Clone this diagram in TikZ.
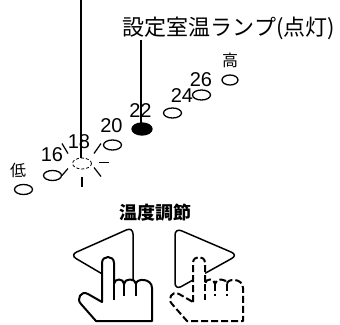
\documentclass[tikz,border=0pt]{standalone}
\usepackage{fontspec}
\newfontfamily\jpfont{Noto Sans CJK JP}
\newfontfamily\numfont{Liberation Sans}
\usetikzlibrary{shapes.geometric}

\tikzset{
  lamp/.style={draw, ellipse, line width=1.3, minimum width=18, minimum height=10, inner sep=0},
  lit/.style={lamp, fill=black, minimum width=20, minimum height=12},
  blink/.style={lamp, densely dashed, line width=0.8, minimum width=19, minimum height=11},
  temp/.style={font=\numfont\fontsize{20}{20}\selectfont, inner sep=0},
  hilo/.style={font=\jpfont\fontsize{16}{16}\selectfont, inner sep=0},
  lead/.style={line width=1.5},
  button/.style={draw, line width=1.5, rounded corners=7},
  hand/.pic={
    % index finger up, three fingers curled, thumb out to the left
    \path[draw, fill=white, line width=2, line join=round]
      (102,302) -- (102,263) .. controls (102,255) and (114,255) .. (114,263)
      -- (114,284) .. controls (114,278) and (124,278) .. (124,284)
      .. controls (124,278) and (136,278) .. (136,284)
      .. controls (136,278) and (152,278) .. (152,288)
      -- (152,321) -- (96,321) -- (81,304)
      .. controls (76,299) and (81,290) .. (88,294) -- cycle;
    \draw[line width=2] (114,284) -- (114,300) (124,284) -- (124,296) (136,284) -- (136,296);
  }
}

\begin{document}
\begin{tikzpicture}[x=1pt,y=-1pt]
  \useasboundingbox (0,0) rectangle (340,324);

  % lamps, low to high
  \node[lamp] (llow) at (23.5,189.5) {};
  \node[lamp] (l16) at (52.5,175.5) {};
  \node[blink] (l18) at (82,163.5) {};
  \node[lamp] (l20) at (112.5,145) {};
  \node[lit] (l22) at (142,129) {};
  \node[lamp] (l24) at (172.5,113) {};
  \node[lamp] (l26) at (201.5,95) {};
  \node[lamp, minimum width=16] (lhigh) at (230,80) {};

  \node[hilo] (tlow) at (18,170) {低};
  \node[temp] (t16) at (52,155) {16};
  \node[temp] (t18) at (79,141.5) {18};
  \node[temp] (t20) at (111.5,125.5) {20};
  \node[temp] (t22) at (140.5,110.5) {22};
  \node[temp] (t24) at (182,95.5) {24};
  \node[temp] (t26) at (201,79.5) {26};
  \node[hilo] (thigh) at (230,60.5) {高};

  % blinking rays round the 18 lamp
  \foreach \a/\b in {{-14,-10}/{-20,-20}, {12,-10}/{19,-20}, {17,-1}/{27,-1},
                     {12,4}/{19,13}, {0,13}/{0,23}, {-14,5}/{-20,12}}
    \draw[line width=1.2] ([shift={(\a)}]l18.center) -- ([shift={(\b)}]l18.center);

  % leaders
  \coordinate (topend) at (81,0);
  \draw[lead] (topend) -- (topend |- l18.north);
  \node[font=\jpfont\fontsize{22}{22}\selectfont, inner sep=0] (setlabel) at (229,28.5) {設定室温ランプ(点灯)};
  \coordinate (leadend) at (141,40);
  \draw[lead] (leadend) -- (leadend |- l22.center);

  % temperature buttons
  \node[font=\jpfont\bfseries\fontsize{18}{18}\selectfont, inner sep=0] (adjust) at (155,212.5) {温度調節};
  \draw[button] (133,227) -- (133,292) -- (70,255) -- cycle;
  \draw[button] (175,228) -- (238,255) -- (175,290) -- cycle;
  \pic at (0,0) {hand};
  \pic[dash pattern=on 7pt off 3pt] at (91,0) {hand};
\end{tikzpicture}
\end{document}
